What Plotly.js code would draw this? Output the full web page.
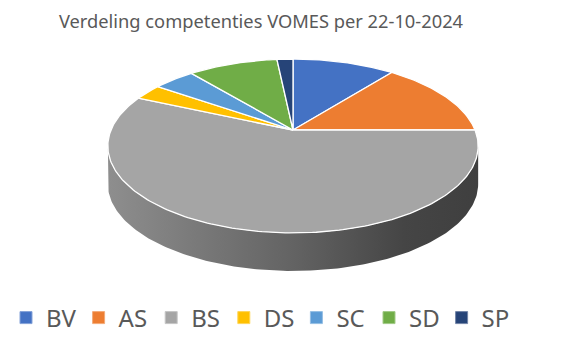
<!DOCTYPE html>
<html><head><meta charset="utf-8">
<script src="https://cdn.plot.ly/plotly-3.0.1.min.js"></script>
<style>html,body{margin:0;padding:0;background:#fff}</style>
</head><body><div id="chart" style="width:587px;height:351px"></div>
<script>
const categories = ['BV', 'AS', 'BS', 'DS', 'SC', 'SD', 'SP'];
const values = [32, 43, 170, 9, 13, 28, 5];
const colors = ['#4472C4', '#ED7D31', '#A5A5A5', '#FFC000', '#5B9BD5', '#70AD47', '#264478'];
const chartTitle = 'Verdeling competenties VOMES per 22-10-2024';

// 3D pie geometry (pixel space of hidden axes)
const W = 587, H = 351;
const CX = 293, CY = 130, RX = 182, RY = 84, K = 0.184, DEPTH = 38;

function proj(theta, dy) {
  const t = theta * Math.PI / 180, u = Math.sin(t), v = Math.cos(t);
  const s = 1 / (1 + K * v);
  return [CX + RX * u * s, CY - RY * v * s + (dy || 0)];
}
function arc(a, b, dy) {
  const pts = [];
  const n = Math.max(2, Math.ceil(Math.abs(b - a)));
  for (let i = 0; i <= n; i++) pts.push(proj(a + (b - a) * i / n, dy));
  return pts;
}
function shade(hex, f) {
  const r = parseInt(hex.slice(1, 3), 16), g = parseInt(hex.slice(3, 5), 16), b = parseInt(hex.slice(5, 7), 16);
  return 'rgb(' + Math.round(r * f) + ',' + Math.round(g * f) + ',' + Math.round(b * f) + ')';
}
function tint(hex, f) {
  const r = parseInt(hex.slice(1, 3), 16), g = parseInt(hex.slice(3, 5), 16), b = parseInt(hex.slice(5, 7), 16);
  const m = c => Math.round(c + (255 - c) * f);
  return 'rgb(' + m(r) + ',' + m(g) + ',' + m(b) + ')';
}

const total = values.reduce((a, b) => a + b, 0);
const thR = 90 + Math.asin(K) * 180 / Math.PI;
const thL = 270 - Math.asin(K) * 180 / Math.PI;
const xLeft = proj(thL)[0], xRight = proj(thR)[0];

const traces = [];
let acc = 0;
const slices = values.map((v, i) => {
  const a = acc / total * 360; acc += v; const b = acc / total * 360;
  return {a, b, i};
});

// side walls
slices.forEach(s => {
  const a = Math.max(s.a, thR), b = Math.min(s.b, thL);
  if (b <= a) return;
  const top = arc(a, b, 0), bot = arc(b, a, DEPTH);
  const pts = top.concat(bot);
  traces.push({
    type: 'scatter', mode: 'lines', fill: 'toself',
    x: pts.map(p => p[0]), y: pts.map(p => p[1]),
    line: {width: 0, color: 'rgba(0,0,0,0)'},
    fillgradient: {type: 'horizontal', start: xLeft, stop: xRight,
      colorscale: [[0, shade(colors[s.i], 0.86)], [0.5, shade(colors[s.i], 0.6)], [0.8, shade(colors[s.i], 0.42)], [1, shade(colors[s.i], 0.38)]]},
    showlegend: false, hoverinfo: 'skip'
  });
});

// top faces
slices.forEach(s => {
  const pts = [[CX, CY]].concat(arc(s.a, s.b, 0)).concat([[CX, CY]]);
  traces.push({
    type: 'scatter', mode: 'lines', fill: 'toself',
    x: pts.map(p => p[0]), y: pts.map(p => p[1]),
    fillcolor: colors[s.i], line: {color: '#ffffff', width: 1.3},
    name: categories[s.i], showlegend: false,
    hoverinfo: 'text', text: categories[s.i] + ': ' + values[s.i]
  });
});

// legend entries
categories.forEach((c, i) => {
  traces.push({
    type: 'scatter', mode: 'markers', x: [null], y: [null], name: c,
    marker: {symbol: 'square', size: 12, color: colors[i], line: {width: 1, color: tint(colors[i], 0.35)}},
    showlegend: true
  });
});

const layout = {
  width: W, height: H,
  margin: {l: 0, r: 0, t: 0, b: 0},
  paper_bgcolor: '#ffffff', plot_bgcolor: '#ffffff',
  xaxis: {range: [0, W], visible: false, fixedrange: true},
  yaxis: {range: [H, 0], visible: false, fixedrange: true},
  title: {text: chartTitle, x: 261 / W, xanchor: 'center', y: 1 - 22 / H, yanchor: 'middle',
    font: {family: 'Noto Sans, sans-serif', size: 18.3, color: '#595959'}},
  showlegend: true,
  legend: {orientation: 'h', x: 6 / W, xanchor: 'left', y: 1 - 318 / H, yanchor: 'middle',
    font: {family: 'Noto Sans, sans-serif', size: 24, color: '#595959'},
    entrywidth: 27.6, entrywidthmode: 'pixels', itemwidth: 30, bgcolor: 'rgba(0,0,0,0)'},
  hovermode: 'closest'
};

Plotly.newPlot('chart', traces, layout, {displayModeBar: false, staticPlot: false});
</script>
</body></html>
